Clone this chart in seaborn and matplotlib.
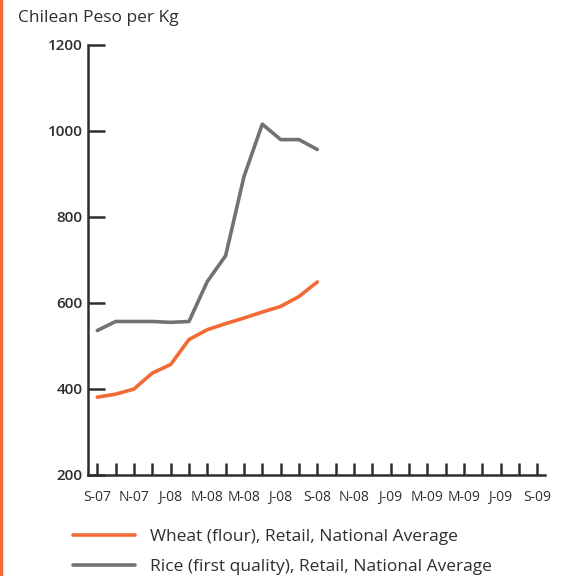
import pandas as pd
import matplotlib.pyplot as plt
import seaborn as sns

# monthly axis, Sep 2007 .. Sep 2009
months = ['S-07', 'O-07', 'N-07', 'D-07', 'J-08', 'F-08', 'M-08', 'A-08', 'M-08', 'J-08',
          'J-08', 'A-08', 'S-08', 'O-08', 'N-08', 'D-08', 'J-09', 'F-09', 'M-09', 'A-09',
          'M-09', 'J-09', 'J-09', 'A-09', 'S-09']
tick_labels = [m if i % 2 == 0 else '' for i, m in enumerate(months)]

wheat = [381, 388, 400, 437, 457, 515, 538, 552, 565, 579, 592, 615, 649]
rice = [536, 557, 557, 557, 555, 557, 650, 710, 894, 1016, 980, 980, 957]

wheat_name = 'Wheat (flour), Retail, National Average'
rice_name = 'Rice (first quality), Retail, National Average'

df = pd.concat([
    pd.DataFrame({'month': range(len(wheat)), 'price': wheat, 'series': wheat_name}),
    pd.DataFrame({'month': range(len(rice)), 'price': rice, 'series': rice_name}),
])

sns.set_style('ticks')
plt.rcParams['font.family'] = ['Open Sans', 'DejaVu Sans']
txt = '#2e2e2e'

fig = plt.figure(figsize=(5.66, 5.76), dpi=100)
ax = fig.add_axes([88 / 566, 101 / 576, 457 / 566, 430 / 576])

sns.lineplot(data=df, x='month', y='price', hue='series', ax=ax,
             palette={wheat_name: '#f26a35', rice_name: '#727272'},
             linewidth=2.6, legend=True)

ax.set_xlim(-0.507, 24.42)
ax.set_ylim(200, 1200)
ax.set_xticks(range(len(months)))
ax.set_xticklabels(tick_labels, fontsize=10, color=txt)
ax.set_yticks([200, 400, 600, 800, 1000, 1200])
ax.set_yticklabels(['200', '400', '600', '800', '1000', '1200'], fontsize=11,
                   color=txt, fontweight='semibold')
ax.tick_params(axis='x', direction='in', length=9, width=1.8, color=txt, pad=11)
ax.tick_params(axis='y', direction='in', length=12, width=1.8, color=txt, pad=4)
ax.set_xlabel('')
ax.set_ylabel('')
for s in ['top', 'right']:
    ax.spines[s].set_visible(False)
for s in ['left', 'bottom']:
    ax.spines[s].set_linewidth(1.8)
    ax.spines[s].set_color(txt)

handles, labels = ax.get_legend_handles_labels()
ax.get_legend().remove()
fig.legend(handles, labels, loc='upper left', bbox_to_anchor=(57 / 566, 1 - 513 / 576),
           frameon=False, fontsize=12.5, handlelength=3.6, handletextpad=0.85,
           labelspacing=0.8, labelcolor=txt)

fig.text(18 / 566, 1 - 18 / 576, 'Chilean Peso per Kg', fontsize=12.5, color=txt, va='center')

# orange bar on the left edge
fig.add_artist(plt.Line2D([0.002, 0.002], [0, 1], color='#f26a35', linewidth=2.5,
                          transform=fig.transFigure))

fig.savefig('out.png', dpi=100)
